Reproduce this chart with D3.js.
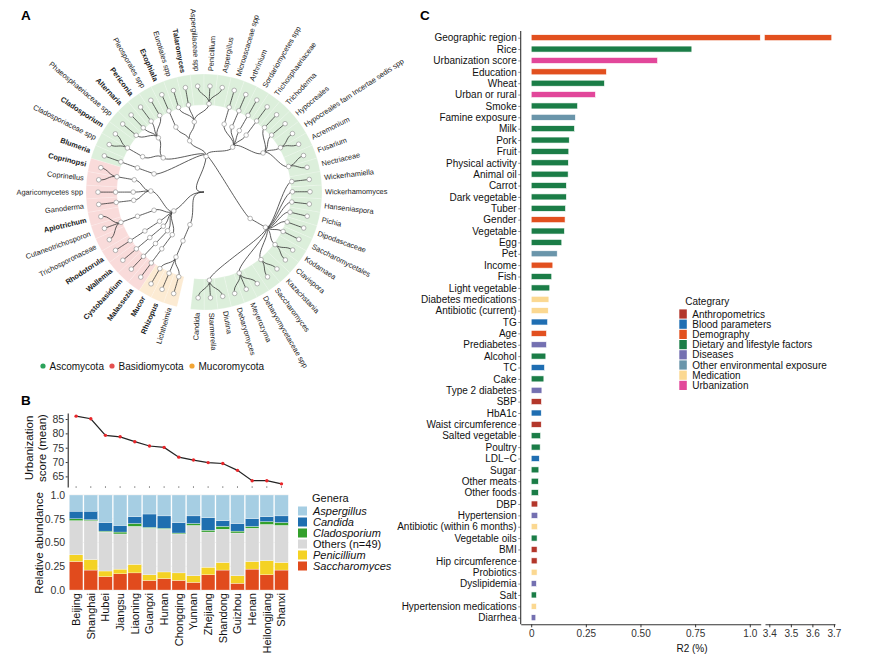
<!DOCTYPE html>
<html>
<head>
<meta charset="utf-8">
<script src="https://cdn.jsdelivr.net/npm/d3@7"></script>
<style>
  body { margin: 0; background: #fff; }
  svg text { font-family: "Liberation Sans", Arial, sans-serif; }
</style>
</head>
<body>
<svg id="fig" width="869" height="665"></svg>
<script>

// ---------- Panel A: taxonomy of fungal genera (leaf order, starting at the bottom and running anticlockwise)
const genusLineage = [
  "Ascomycota;Saccharomycetes;Saccharomycetales;Saccharomycetales fam Incertae sedis;Candida",
  "Ascomycota;Saccharomycetes;Saccharomycetales;Saccharomycetales fam Incertae sedis;Starmerella",
  "Ascomycota;Saccharomycetes;Saccharomycetales;Saccharomycetales fam Incertae sedis;Diutina",
  "Ascomycota;Saccharomycetes;Saccharomycetales;Debaryomycetaceae;Debaryomyces",
  "Ascomycota;Saccharomycetes;Saccharomycetales;Debaryomycetaceae;Meyerozyma",
  "Ascomycota;Saccharomycetes;Saccharomycetales;Debaryomycetaceae;Debaryomycetaceae spp",
  "Ascomycota;Saccharomycetes;Saccharomycetales;Saccharomycetaceae;Saccharomyces",
  "Ascomycota;Saccharomycetes;Saccharomycetales;Saccharomycetaceae;Kazachstania",
  "Ascomycota;Saccharomycetes;Saccharomycetales;Metschnikowiaceae;Clavispora",
  "Ascomycota;Saccharomycetes;Saccharomycetales;Metschnikowiaceae;Kodamaea",
  "Ascomycota;Saccharomycetes;Saccharomycetales;Saccharomycetales spp;Saccharomycetales",
  "Ascomycota;Saccharomycetes;Saccharomycetales;Dipodascaceae;Dipodascaceae",
  "Ascomycota;Saccharomycetes;Saccharomycetales;Pichiaceae;Pichia",
  "Ascomycota;Saccharomycetes;Saccharomycetales;Saccharomycodaceae;Hanseniaspora",
  "Ascomycota;Saccharomycetes;Saccharomycetales;Phaffomycetaceae;Wickerhamomyces",
  "Ascomycota;Saccharomycetes;Saccharomycetales;Trichomonascaceae;Wickerhamiella",
  "Ascomycota;Sordariomycetes;Hypocreales;Nectriaceae;Nectriaceae",
  "Ascomycota;Sordariomycetes;Hypocreales;Nectriaceae;Fusarium",
  "Ascomycota;Sordariomycetes;Hypocreales;Hypocreales fam Incertae sedis;Acremonium",
  "Ascomycota;Sordariomycetes;Hypocreales;Hypocreales fam Incertae sedis;Hypocreales fam Incertae sedis spp",
  "Ascomycota;Sordariomycetes;Hypocreales;Hypocreales spp;Hypocreales",
  "Ascomycota;Sordariomycetes;Hypocreales;Hypocreaceae;Trichoderma",
  "Ascomycota;Sordariomycetes;Trichosphaeriales;Trichosphaeriaceae;Trichosphaeriaceae",
  "Ascomycota;Sordariomycetes;Sordariomycetes spp;Sordariomycetes spp;Sordariomycetes spp",
  "Ascomycota;Sordariomycetes;Xylariales;Apiosporaceae;Arthrinium",
  "Ascomycota;Sordariomycetes;Microascales;Microascaceae;Microascaceae spp",
  "Ascomycota;Eurotiomycetes;Eurotiales;Aspergillaceae;Aspergillus",
  "Ascomycota;Eurotiomycetes;Eurotiales;Aspergillaceae;Penicillium",
  "Ascomycota;Eurotiomycetes;Eurotiales;Aspergillaceae;Aspergillaceae spp",
  "Ascomycota;Eurotiomycetes;Eurotiales;Trichocomaceae;Talaromyces",
  "Ascomycota;Eurotiomycetes;Eurotiales;Eurotiales spp;Eurotiales spp",
  "Ascomycota;Eurotiomycetes;Chaetothyriales;Herpotrichiellaceae;Exophiala",
  "Ascomycota;Dothideomycetes;Pleosporales;Pleosporales spp;Pleosporales spp",
  "Ascomycota;Dothideomycetes;Pleosporales;Periconiaceae;Periconia",
  "Ascomycota;Dothideomycetes;Pleosporales;Pleosporaceae;Alternaria",
  "Ascomycota;Dothideomycetes;Pleosporales;Phaeosphaeriaceae;Phaeosphaeriaceae spp",
  "Ascomycota;Dothideomycetes;Capnodiales;Cladosporiaceae;Cladosporium",
  "Ascomycota;Dothideomycetes;Capnodiales;Cladosporiaceae;Cladosporiaceae spp",
  "Ascomycota;Leotiomycetes;Erysiphales;Erysiphaceae;Blumeria",
  "Basidiomycota;Agaricomycetes;Agaricales;Psathyrellaceae;Coprinopsi",
  "Basidiomycota;Agaricomycetes;Agaricales;Psathyrellaceae;Coprinellus",
  "Basidiomycota;Agaricomycetes;Agaricomycetes spp;Agaricomycetes spp;Agaricomycetes spp",
  "Basidiomycota;Agaricomycetes;Polyporales;Ganodermataceae;Ganoderma",
  "Basidiomycota;Tremellomycetes;Trichosporonales;Trichosporonaceae;Apiotrichum",
  "Basidiomycota;Tremellomycetes;Trichosporonales;Trichosporonaceae;Cutaneotrichosporon",
  "Basidiomycota;Tremellomycetes;Trichosporonales;Trichosporonaceae;Trichosporonaceae",
  "Basidiomycota;Microbotryomycetes;Sporidiobolales;Sporidiobolaceae;Rhodotorula",
  "Basidiomycota;Wallemiomycetes;Wallemiales;Wallemiaceae;Wallemia",
  "Basidiomycota;Cystobasidiomycetes;Cystobasidiales;Cystobasidiaceae;Cystobasidium",
  "Basidiomycota;Malasseziomycetes;Malasseziales;Malasseziaceae;Malassezia",
  "Mucoromycota;Mucoromycetes;Mucorales;Mucoraceae;Mucor",
  "Mucoromycota;Mucoromycetes;Mucorales;Rhizopodaceae;Rhizopus",
  "Mucoromycota;Mucoromycetes;Mucorales;Lichtheimiaceae;Lichtheimia"
];
const boldGenera = ["Talaromyces", "Exophiala", "Periconia", "Alternaria", "Cladosporium", "Blumeria",
  "Coprinopsi", "Apiotrichum", "Rhodotorula", "Wallemia", "Cystobasidium", "Malassezia", "Mucor", "Rhizopus"];
const phylumNames = ["Ascomycota", "Basidiomycota", "Mucoromycota"];
const phylumDots = ["#2ba25a", "#e5504f", "#f2a534"];
const phylumBands = ["#dcefdb", "#f9dbda", "#fcebd3"];

// ---------- Panel B: urbanization score and genus abundance per province
const provinces = ["Beijing", "Shanghai", "Hubei", "Jiangsu", "Liaoning", "Guangxi", "Hunan", "Chongqing",
  "Yunnan", "Zhejiang", "Shandong", "Guizhou", "Henan", "Heilongjiang", "Shanxi"];
const urbanScore = [86.0, 85.1, 79.3, 78.8, 77.1, 75.6, 75.1, 71.7, 70.7, 69.8, 69.5, 67.1, 63.5, 63.5, 62.4];
const urbanTicks = [65, 70, 75, 80, 85];

const genera = ["Aspergillus", "Candida", "Cladosporium", "Others (n=49)", "Penicillium", "Saccharomyces"];
const generaColors = ["#a6cee3", "#1f6fb0", "#34a02c", "#d9d9d9", "#f4d224", "#e14b1d"];
const aspergillus   = [0.17, 0.17, 0.29, 0.32, 0.23, 0.20, 0.22, 0.29, 0.22, 0.24, 0.27, 0.30, 0.25, 0.23, 0.22];
const candida       = [0.08, 0.09, 0.09, 0.07, 0.07, 0.14, 0.13, 0.11, 0.08, 0.13, 0.06, 0.08, 0.08, 0.05, 0.07];
const cladosporium  = [0.02, 0.01, 0.01, 0.02, 0.03, 0.01, 0.01, 0.01, 0.02, 0.02, 0.03, 0.02, 0.02, 0.03, 0.03];
const others        = [0.36, 0.41, 0.41, 0.37, 0.40, 0.49, 0.45, 0.41, 0.53, 0.37, 0.35, 0.45, 0.35, 0.38, 0.39];
const penicillium   = [0.07, 0.11, 0.06, 0.05, 0.09, 0.06, 0.07, 0.08, 0.07, 0.08, 0.08, 0.08, 0.08, 0.15, 0.08];
const saccharomyces = [0.30, 0.21, 0.14, 0.17, 0.18, 0.10, 0.12, 0.10, 0.08, 0.16, 0.21, 0.07, 0.22, 0.16, 0.21];
const abundTicks = [0, 0.25, 0.5, 0.75, 1];
const abundTickLabels = ["0.0", "0.25", "0.50", "0.75", "1.0"];

// ---------- Panel C: variance explained by host factors
const factors = ["Geographic region", "Rice", "Urbanization score", "Education", "Wheat", "Urban or rural", "Smoke",
  "Famine exposure", "Milk", "Pork", "Fruit", "Physical activity", "Animal oil", "Carrot", "Dark vegetable", "Tuber",
  "Gender", "Vegetable", "Egg", "Pet", "Income", "Fish", "Light vegetable", "Diabetes medications",
  "Antibiotic (current)", "TG", "Age", "Prediabetes", "Alcohol", "TC", "Cake", "Type 2 diabetes", "SBP", "HbA1c",
  "Waist circumference", "Salted vegetable", "Poultry", "LDL\u2212C", "Sugar", "Other meats", "Other foods", "DBP",
  "Hypertension", "Antibiotic (within 6 months)", "Vegetable oils", "BMI", "Hip circumference", "Probiotics",
  "Dyslipidemia", "Salt", "Hypertension medications", "Diarrhea"];
const factorR2 = [3.69, 0.735, 0.578, 0.344, 0.335, 0.294, 0.212, 0.202, 0.198, 0.174, 0.172, 0.170, 0.169, 0.161,
  0.161, 0.157, 0.155, 0.152, 0.140, 0.119, 0.099, 0.094, 0.085, 0.081, 0.078, 0.075, 0.070, 0.070, 0.067, 0.061,
  0.058, 0.049, 0.047, 0.046, 0.046, 0.043, 0.041, 0.037, 0.035, 0.033, 0.033, 0.030, 0.030, 0.029, 0.027, 0.027,
  0.027, 0.027, 0.024, 0.024, 0.024, 0.021];
const factorCategory = ["Demography", "Dietary and lifestyle factors", "Urbanization", "Demography",
  "Dietary and lifestyle factors", "Urbanization", "Dietary and lifestyle factors", "Other environmental exposure",
  "Dietary and lifestyle factors", "Dietary and lifestyle factors", "Dietary and lifestyle factors",
  "Dietary and lifestyle factors", "Dietary and lifestyle factors", "Dietary and lifestyle factors",
  "Dietary and lifestyle factors", "Dietary and lifestyle factors", "Demography", "Dietary and lifestyle factors",
  "Dietary and lifestyle factors", "Other environmental exposure", "Demography", "Dietary and lifestyle factors",
  "Dietary and lifestyle factors", "Medication", "Medication", "Blood parameters", "Demography", "Diseases",
  "Dietary and lifestyle factors", "Blood parameters", "Dietary and lifestyle factors", "Diseases",
  "Anthropometrics", "Blood parameters", "Anthropometrics", "Dietary and lifestyle factors",
  "Dietary and lifestyle factors", "Blood parameters", "Dietary and lifestyle factors",
  "Dietary and lifestyle factors", "Dietary and lifestyle factors", "Anthropometrics", "Diseases", "Medication",
  "Dietary and lifestyle factors", "Anthropometrics", "Anthropometrics", "Medication", "Diseases",
  "Dietary and lifestyle factors", "Medication", "Diseases"];
const categories = ["Anthropometrics", "Blood parameters", "Demography", "Dietary and lifestyle factors", "Diseases",
  "Other environmental exposure", "Medication", "Urbanization"];
const categoryColors = ["#b3372b", "#1f6eb2", "#e2501f", "#1b7d47", "#7470b1", "#6a95aa", "#fbd891", "#e2479a"];
const r2TicksLow = [0, 0.25, 0.5, 0.75, 1.0];
const r2TickLabelsLow = ["0", "0.25", "0.50", "0.75", "1.0"];
const r2TicksHigh = [3.4, 3.5, 3.6, 3.7];

const svg = d3.select("#fig");
const textCol = "#111";

// Panel letters.
[["A", 21, 20], ["B", 21, 405], ["C", 420, 20]].forEach(p => {
  svg.append("text").attr("x", p[1]).attr("y", p[2]).text(p[0])
    .style("font-size", "13.5px").style("font-weight", "bold");
});

// ================= Panel A =================
const centerA = [204, 192],
  leafR = 106,
  levelStep = 17.6,
  startAngle = 186.5,
  bandInner = 87,
  bandOuter = 118,
  labelR = 121;

const gA = svg.append("g").attr("transform", `translate(${ centerA[0] } ${ centerA[1] })`);

const lineages = genusLineage.map(s => s.split(";"));
const nested = d3.group(lineages, d => d[0], d => d[1], d => d[2], d => d[3]);
const root = d3.hierarchy(["Fungi", nested], d => {
  const v = d[1];
  if (v instanceof Map) return Array.from(v);
  if (Array.isArray(v)) return v.map(l => [l[4], null, l]);
  return null;
});
const nLeaf = lineages.length;
const leafStep = 360 / nLeaf;
d3.cluster().size([360 * (nLeaf - 1) / nLeaf, leafR]).separation(() => 1)(root);

const angDeg = d => startAngle - d.x;
const normDeg = d => ((angDeg(d) % 360) + 360) % 360;
const radius = d => d.depth === 0 ? 0 : leafR - (root.height - d.depth) * levelStep;
const px = d => radius(d) * Math.sin(angDeg(d) * Math.PI / 180);
const py = d => -radius(d) * Math.cos(angDeg(d) * Math.PI / 180);

// Coloured ring behind the tips.
const bandArc = d3.arc().innerRadius(bandInner).outerRadius(bandOuter);
gA.append("g").selectAll("path")
  .data(root.leaves())
  .join("path")
    .attr("d", d => bandArc({
      startAngle: (angDeg(d) - leafStep / 2) * Math.PI / 180,
      endAngle: (angDeg(d) + leafStep / 2) * Math.PI / 180 }))
    .attr("fill", d => phylumBands[phylumNames.indexOf(d.data[2][0])])
    .attr("stroke", "#ffffff")
    .attr("stroke-opacity", 0.45)
    .attr("stroke-width", 0.5);

// Branches.
const linkGen = d3.linkRadial()
  .angle(d => angDeg(d) * Math.PI / 180)
  .radius(radius);
gA.append("g").selectAll("path")
  .data(root.links())
  .join("path")
    .attr("d", linkGen)
    .attr("fill", "none")
    .attr("stroke", "#333")
    .attr("stroke-width", 0.8);

// Nodes.
gA.append("g").selectAll("circle")
  .data(root.descendants().filter(d => d.depth > 0))
  .join("circle")
    .attr("cx", px)
    .attr("cy", py)
    .attr("r", 2.3)
    .attr("fill", "#fff")
    .attr("stroke", "#8a8a8a")
    .attr("stroke-width", 0.6);

// Tip labels.
gA.append("g").selectAll("text")
  .data(root.leaves())
  .join("text")
    .attr("transform", d => {
      const a = normDeg(d);
      return `rotate(${ a - 90 }) translate(${ labelR },0)` + (a > 180 ? " rotate(180)" : "");
    })
    .attr("text-anchor", d => normDeg(d) > 180 ? "end" : "start")
    .attr("dy", "0.33em")
    .style("font-size", "7.4px")
    .style("font-weight", d => boldGenera.includes(d.data[0]) ? "bold" : "normal")
    .attr("fill", "#1a1a1a")
    .text(d => d.data[0]);

// Phylum legend.
const legA = svg.append("g").attr("transform", "translate(0 366)");
const legAx = [43, 112, 192];
phylumNames.forEach((p, i) => {
  legA.append("circle").attr("cx", legAx[i]).attr("cy", 0).attr("r", 2.6).attr("fill", phylumDots[i]);
  legA.append("text").attr("x", legAx[i] + 6.5).attr("y", 3.6).text(p)
    .style("font-size", "10px").attr("fill", textCol);
});

// ================= Panel B =================
const xB = d3.scaleBand().domain(provinces).range([69.3, 288.3]).paddingInner(0.07);
const bw = xB.bandwidth();

// Line chart of urbanization score.
const yLine = d3.scaleLinear().domain([61.3, 87.1]).range([487, 413]);
const lineAxis = svg.append("g")
  .attr("transform", "translate(67.7 0)")
  .call(d3.axisLeft(yLine).tickValues(urbanTicks).tickSize(2).tickSizeOuter(0).tickPadding(1.5));
lineAxis.select(".domain").attr("stroke", "#111").attr("stroke-width", 1);
lineAxis.selectAll(".tick line").attr("stroke", "#333");
lineAxis.selectAll("text").style("font-size", "10.5px").attr("fill", "#333");

// Tiny x ticks under the line chart.
svg.append("g").selectAll("line")
  .data(provinces)
  .join("line")
    .attr("x1", d => xB(d) + bw / 2)
    .attr("x2", d => xB(d) + bw / 2)
    .attr("y1", 486.3)
    .attr("y2", 487.8)
    .attr("stroke", "#555")
    .attr("stroke-width", 0.8);

const lineGen = d3.line()
  .x((d, i) => xB(provinces[i]) + bw / 2)
  .y(d => yLine(d));
svg.append("path")
  .attr("d", lineGen(urbanScore))
  .attr("fill", "none")
  .attr("stroke", "#222")
  .attr("stroke-width", 1.2);
svg.append("g").selectAll("circle")
  .data(urbanScore)
  .join("circle")
    .attr("cx", (d, i) => xB(provinces[i]) + bw / 2)
    .attr("cy", d => yLine(d))
    .attr("r", 1.7)
    .attr("fill", "#e8262a");

const urbTitle = svg.append("text")
  .attr("transform", "translate(33 448) rotate(-90)")
  .attr("text-anchor", "middle")
  .style("font-size", "11.5px")
  .attr("fill", textCol);
urbTitle.append("tspan").attr("x", 0).attr("dy", 0).text("Urbanization");
urbTitle.append("tspan").attr("x", 0).attr("dy", "1.15em").text("score (mean)");

// Stacked bars of relative abundance.
const yBar = d3.scaleLinear().domain([0, 1]).range([590, 495]);
const abundRows = provinces.map((p, i) => ({
  province: p,
  "Aspergillus": aspergillus[i],
  "Candida": candida[i],
  "Cladosporium": cladosporium[i],
  "Others (n=49)": others[i],
  "Penicillium": penicillium[i],
  "Saccharomyces": saccharomyces[i]
}));
const stackKeys = genera.slice().reverse();
const stacked = d3.stack().keys(stackKeys)(abundRows);

// Grid lines.
svg.append("g").selectAll("line")
  .data(abundTicks)
  .join("line")
    .attr("x1", 69.3)
    .attr("x2", 288.3)
    .attr("y1", d => yBar(d))
    .attr("y2", d => yBar(d))
    .attr("stroke", "#ebebeb")
    .attr("stroke-width", 0.8);

svg.append("g").selectAll("g")
  .data(stacked)
  .join("g")
    .attr("fill", s => generaColors[genera.indexOf(s.key)])
  .selectAll("rect")
  .data(s => s)
  .join("rect")
    .attr("x", d => xB(d.data.province))
    .attr("y", d => yBar(d[1]))
    .attr("width", bw)
    .attr("height", d => yBar(d[0]) - yBar(d[1]))
    .attr("stroke", "#fff")
    .attr("stroke-width", 0.3);

const barAxis = svg.append("g")
  .attr("transform", "translate(67.7 0)")
  .call(d3.axisLeft(yBar).tickValues(abundTicks).tickFormat((d, i) => abundTickLabels[i])
    .tickSize(0).tickPadding(2.5));
barAxis.select(".domain").remove();
barAxis.selectAll("text").style("font-size", "10.5px").attr("fill", "#333");

svg.append("text")
  .attr("transform", "translate(43 543) rotate(-90)")
  .attr("text-anchor", "middle")
  .style("font-size", "11.5px")
  .attr("fill", textCol)
  .text("Relative abundance");

// Province labels.
svg.append("g").selectAll("text")
  .data(provinces)
  .join("text")
    .attr("transform", d => `translate(${ xB(d) + bw / 2 + 4 } 593) rotate(-90)`)
    .attr("text-anchor", "end")
    .style("font-size", "11px")
    .attr("fill", textCol)
    .text(d => d);

// Genera legend.
const legB = svg.append("g").attr("transform", "translate(298 0)");
legB.append("text").attr("x", 14).attr("y", 502).text("Genera")
  .style("font-size", "11px").attr("fill", textCol);
genera.forEach((g, i) => {
  const cy = 511 + i * 11;
  legB.append("rect").attr("x", 0).attr("y", cy - 4.5).attr("width", 9).attr("height", 9)
    .attr("fill", generaColors[i]);
  legB.append("text").attr("x", 15).attr("y", cy + 4).text(g)
    .style("font-size", "11px")
    .style("font-style", g.startsWith("Others") ? "normal" : "italic")
    .attr("fill", textCol);
});

// ================= Panel C =================
const yC = d3.scalePoint().domain(factors).range([37.7, 617.7]);
const xC1 = d3.scaleLinear().domain([-0.048, 1.05]).range([520.7, 760.7]);
const xC2 = d3.scaleLinear().domain([3.38, 3.705]).range([765, 835]);
const axisY = 624.3,
  barH = 6;

const rowsC = factors.map((f, i) => ({ factor: f, r2: factorR2[i], cat: factorCategory[i] }));
const colC = d => categoryColors[categories.indexOf(d.cat)];

svg.append("g").selectAll("rect")
  .data(rowsC)
  .join("rect")
    .attr("x", xC1(0))
    .attr("y", d => yC(d.factor) - barH / 2)
    .attr("width", d => xC1(Math.min(d.r2, 1.048)) - xC1(0))
    .attr("height", barH)
    .attr("fill", colC)
    .attr("stroke", "#fff")
    .attr("stroke-width", 0.6);

svg.append("g").selectAll("rect")
  .data(rowsC.filter(d => d.r2 > 3.38))
  .join("rect")
    .attr("x", xC2(3.38) - 0.7)
    .attr("y", d => yC(d.factor) - barH / 2)
    .attr("width", d => xC2(d.r2) - xC2(3.38) + 0.7)
    .attr("height", barH)
    .attr("fill", colC)
    .attr("stroke", "#fff")
    .attr("stroke-width", 0.6);

// Left axis.
const yAxisC = svg.append("g")
  .attr("transform", "translate(520.7 0)")
  .call(d3.axisLeft(yC).tickSize(2.5).tickSizeOuter(0).tickPadding(1.5));
yAxisC.select(".domain").remove();
yAxisC.selectAll(".tick line").attr("stroke", "#444").attr("stroke-width", 0.6);
yAxisC.selectAll("text").style("font-size", "10px").attr("fill", textCol);
svg.append("line")
  .attr("x1", 520.7).attr("x2", 520.7).attr("y1", 31).attr("y2", axisY)
  .attr("stroke", "#333").attr("stroke-width", 1.1);

// Broken bottom axis.
const xAxisC1 = svg.append("g")
  .attr("transform", `translate(0 ${ axisY })`)
  .call(d3.axisBottom(xC1).tickValues(r2TicksLow).tickFormat((d, i) => r2TickLabelsLow[i])
    .tickSize(3).tickSizeOuter(0).tickPadding(2.5));
const xAxisC2 = svg.append("g")
  .attr("transform", `translate(0 ${ axisY })`)
  .call(d3.axisBottom(xC2).tickValues(r2TicksHigh).tickFormat(d3.format(".1f"))
    .tickSize(3).tickSizeOuter(0).tickPadding(2.5));
[xAxisC1, xAxisC2].forEach(ax => {
  ax.select(".domain").attr("stroke", "#333").attr("stroke-width", 1.1);
  ax.selectAll(".tick line").attr("stroke", "#333");
  ax.selectAll("text").style("font-size", "10px").attr("fill", "#333");
});
svg.append("text")
  .attr("x", 692).attr("y", 652)
  .attr("text-anchor", "middle")
  .style("font-size", "10px")
  .attr("fill", textCol)
  .text("R2 (%)");

// Category legend.
const legC = svg.append("g").attr("transform", "translate(679.3 0)");
legC.append("text").attr("x", 6).attr("y", 304.5).text("Categrary")
  .style("font-size", "10px").attr("fill", textCol);
categories.forEach((c, i) => {
  const cy = 314 + i * 10.2;
  legC.append("rect").attr("x", 0).attr("y", cy - 4.6).attr("width", 7.5).attr("height", 9.2)
    .attr("fill", categoryColors[i]);
  legC.append("text").attr("x", 13).attr("y", cy + 3.6).text(c)
    .style("font-size", "10px").attr("fill", textCol);
});

</script>
</body>
</html>
